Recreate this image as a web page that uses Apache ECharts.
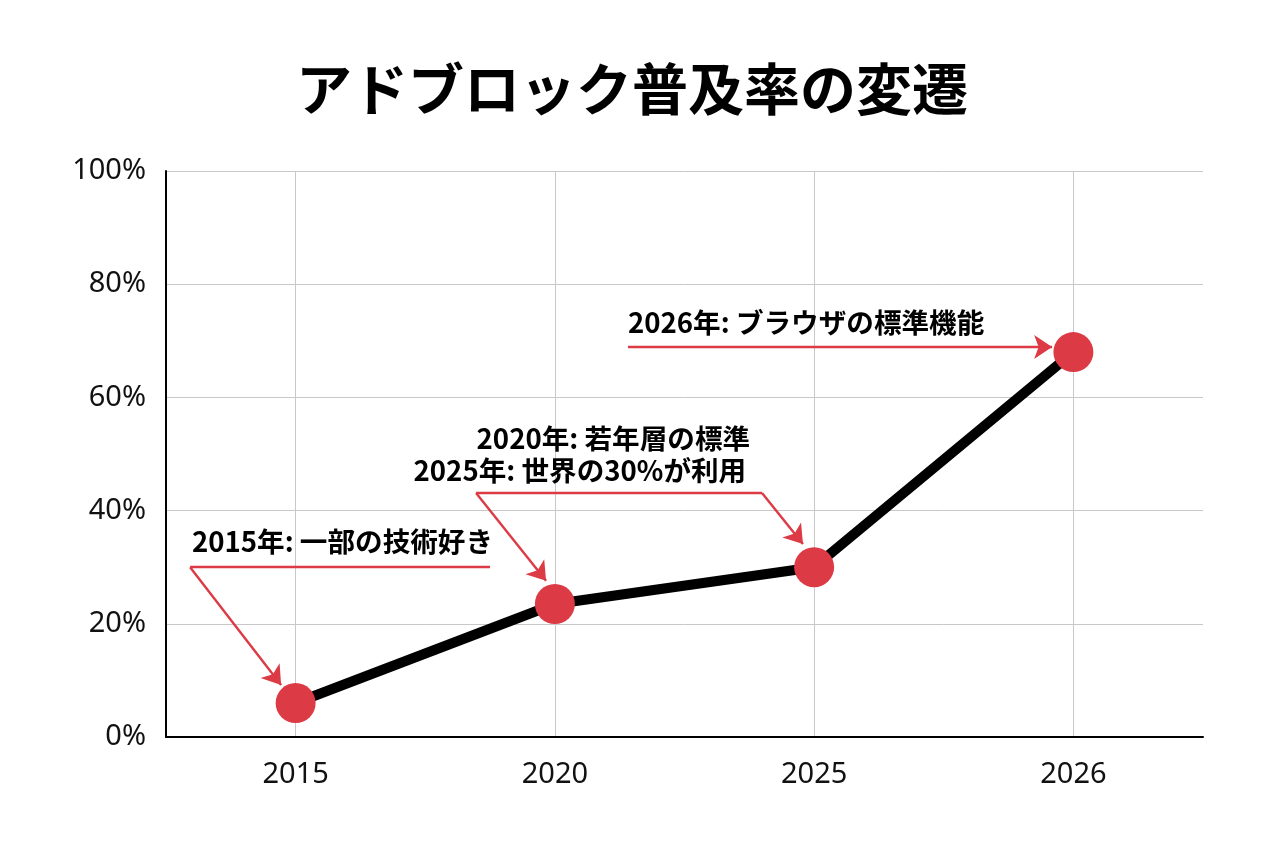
<!DOCTYPE html>
<html><head><meta charset="utf-8">
<script src="https://cdn.jsdelivr.net/npm/echarts@6/dist/echarts.min.js"></script>
<style>html,body{margin:0;padding:0;background:#fff}#c{width:1264px;height:848px}</style>
</head><body><div id="c"></div>
<script>
const categories = ['2015', '2020', '2025', '2026'];
const adoption = [6, 23.5, 30, 68];
const yTicks = [0, 20, 40, 60, 80, 100];
const titleText = 'アドブロック普及率の変遷';
const noteTexts = ['2015年: 一部の技術好き', '2020年: 若年層の標準', '2025年: 世界の30%が利用', '2026年: ブラウザの標準機能'];
// label anchors in (category-index, percent) coordinates
const noteAnchors = [[-0.40, 34.6], [1.753, 52.8], [1.738, 47.0], [1.282, 73.3]];
const noteAlign = ['left', 'right', 'right', 'left'];
// leader segments (plain) and arrow segments, in (category-index, percent)
const leaderSegs = [
  [[0.75, 30.0], [-0.407, 30.0]],
  [[0.696, 43.1], [1.799, 43.1]]
];
const arrowSegs = [
  [[-0.407, 30.0], [-0.056, 9.2]],
  [[0.696, 43.1], [0.966, 27.6]],
  [[1.799, 43.1], [1.957, 34.1]],
  [[1.282, 68.9], [2.918, 68.9]]
];

const CJK = '"Noto Sans CJK JP", "Noto Sans", sans-serif';
const TICK = '"Noto Sans", "Noto Sans CJK JP", sans-serif';
const RED = '#dc3a44';
const chart = echarts.init(document.getElementById('c'));
chart.setOption({
  backgroundColor: '#fff',
  animation: false,
  title: {
    text: titleText, left: 'center', top: 56,
    textStyle: { fontFamily: CJK, fontSize: 56, fontWeight: 'bold', color: '#000' }
  },
  grid: { left: 166, right: 61, top: 171, bottom: 111 },
  xAxis: [{
    type: 'category', data: categories, boundaryGap: true,
    axisLine: { lineStyle: { color: '#000', width: 2 } },
    axisTick: { show: false },
    axisLabel: { fontFamily: TICK, fontSize: 29, color: '#111', margin: 23 },
    splitLine: { show: true, alignWithLabel: true, lineStyle: { color: '#c8c8c8', width: 1 } }
  }, {
    type: 'value', min: -0.5, max: 3.5, show: false
  }],
  yAxis: {
    type: 'value', min: yTicks[0], max: yTicks[yTicks.length - 1], interval: 20,
    axisLine: { show: true, onZero: false, lineStyle: { color: '#000', width: 2 } },
    axisTick: { show: false },
    axisLabel: { fontFamily: TICK, fontSize: 29, color: '#111', margin: 20, formatter: '{value}%' },
    splitLine: { show: true, lineStyle: { color: '#c8c8c8', width: 1 } }
  },
  series: [{
    type: 'line', data: adoption, xAxisIndex: 0, z: 5,
    lineStyle: { color: '#000', width: 10 },
    symbol: 'circle', symbolSize: 40, showAllSymbol: true,
    itemStyle: { color: RED, borderWidth: 0 }
  }, {
    type: 'lines', coordinateSystem: 'cartesian2d', xAxisIndex: 1, yAxisIndex: 0, z: 4,
    symbol: ['none', 'none'],
    lineStyle: { color: RED, width: 2.4, opacity: 1, curveness: 0 },
    data: leaderSegs.map(s => ({ coords: s }))
  }, {
    type: 'lines', coordinateSystem: 'cartesian2d', xAxisIndex: 1, yAxisIndex: 0, z: 4,
    symbol: ['none', 'arrow'], symbolSize: [12, 18],
    lineStyle: { color: RED, width: 2.4, opacity: 1, curveness: 0 },
    data: arrowSegs.map(s => ({ coords: s }))
  }, {
    type: 'scatter', xAxisIndex: 1, yAxisIndex: 0, symbolSize: 0, z: 6,
    itemStyle: { opacity: 1 },
    data: noteAnchors.map((p, i) => ({
      value: p,
      label: {
        show: true, position: 'inside', align: noteAlign[i], verticalAlign: 'middle',
        formatter: noteTexts[i], fontFamily: CJK, fontSize: 27.6, fontWeight: 'bold',
        color: '#000', opacity: 1
      }
    }))
  }]
});
</script></body></html>
